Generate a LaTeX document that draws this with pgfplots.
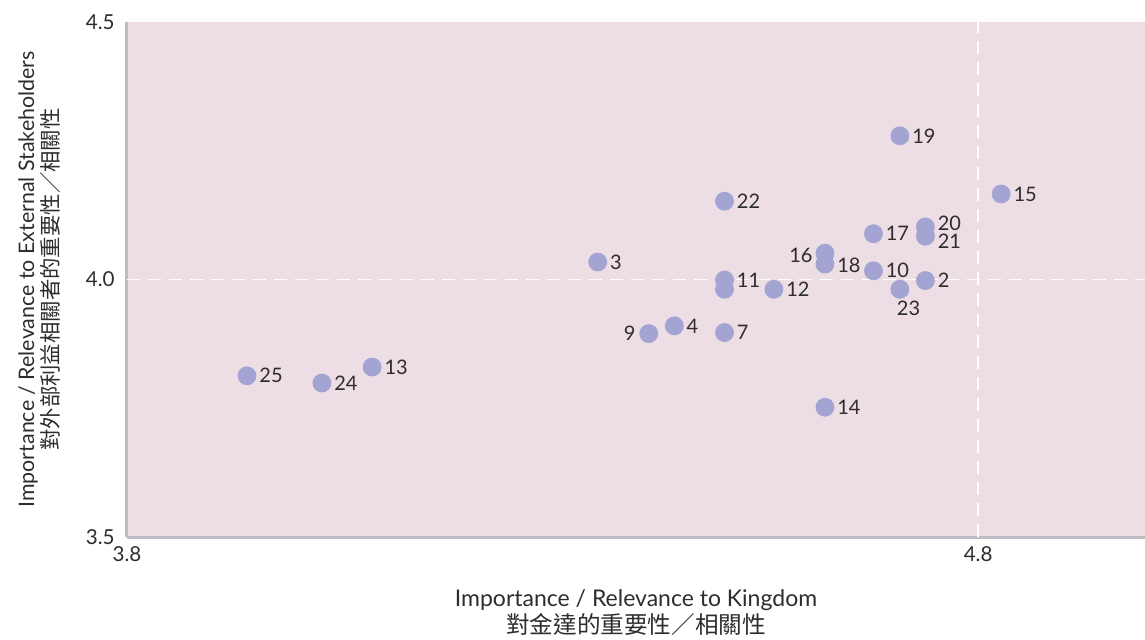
\documentclass[border=0pt]{standalone}
\usepackage{fontspec}
\setmainfont{Lato}
\newfontfamily\cjk{Noto Sans CJK TC}
\usepackage{pgfplots}
\usepackage{pgfplotstable}
\pgfplotsset{compat=1.18}

\definecolor{bgpink}{RGB}{237,221,228}
\definecolor{dot}{RGB}{163,164,210}
\definecolor{axisgrey}{RGB}{188,188,194}
\definecolor{txt}{RGB}{45,45,45}

% issue scores: x = Kingdom, y = external stakeholders
% anc = anchor angle of the number (180 west, 0 east, 135 north west), dx/dy in pt
\pgfplotstableread{
x     y     lab anc dx   dy
3.941 3.813 25  180 6    0
4.029 3.799 24  180 6    0
4.088 3.830 13  180 6    0
4.353 4.034 3   180 6    0
4.413 3.895 9   0   -6.5 0
4.443 3.910 4   180 6    0
4.502 3.897 7   180 6    0
4.502 3.999 11  180 6    0
4.502 4.152 22  180 6    0
4.560 3.981 12  180 6    0
4.620 4.051 16  0   -6   -1
4.620 4.030 18  180 6    -0.5
4.620 3.752 14  180 6    0
4.677 4.089 17  180 6    0
4.677 4.017 10  180 6    0
4.708 3.981 23  135 0.5  -5.5
4.738 3.998 2   180 6    0
4.738 4.102 20  180 6    2
4.738 4.084 21  180 6    -2.5
4.708 4.279 19  180 6    0
4.827 4.166 15  180 6    0
}\issues

\begin{document}
\begin{tikzpicture}
\useasboundingbox (-63.5pt,-51pt) rectangle (509pt,268.5pt);
\begin{axis}[
    scale only axis,
    width=509pt, height=257.5pt,
    xmin=3.8, xmax=4.996,
    ymin=3.5, ymax=4.5,
    xtick={3.8,4.8},
    ytick={3.5,4.0,4.5},
    axis x line*=bottom,
    axis y line*=left,
    axis line style={draw=axisgrey, line width=1.5pt, -},
    axis background/.style={fill=bgpink},
    xtick style={draw=none}, ytick style={draw=none},
    /pgf/number format/.cd, fixed, fixed zerofill, precision=1, assume math mode=true,
    /pgfplots/.cd,
    ticklabel style={font=\fontsize{10.3}{12}\selectfont, text=txt},
    yticklabel style={anchor=east, inner sep=0pt, xshift=-6pt},
    xticklabel style={anchor=north, inner sep=0pt, yshift=-4.5pt},
    xlabel={Importance / Relevance to Kingdom\\{\cjk\fontsize{11.8}{13.5}\selectfont 對金達的重要性／相關性}},
    ylabel={Importance / Relevance to External Stakeholders\\{\cjk 對外部利益相關者的重要性／相關性}},
    x label style={at={(axis description cs:0.5,-0.1476)}, anchor=center, align=center,
        font=\fontsize{11.5}{13.5}\selectfont, text=txt},
    y label style={at={(axis description cs:-0.0864,0.5)}, anchor=center, align=center,
        font=\fontsize{10.7}{12}\selectfont, text=txt},
]
% quadrant guides
\addplot[white, line width=0.8pt, dash pattern=on 6.5pt off 4pt] coordinates {(3.8,4.0) (4.996,4.0)};
\addplot[white, line width=0.8pt, dash pattern=on 6.5pt off 4pt] coordinates {(4.8,3.5) (4.8,4.5)};

% hidden-number dot under 11
\addplot[only marks, mark=*, mark size=4.5pt, color=dot] coordinates {(4.502,3.981)};

\addplot[only marks, mark=*, mark size=4.5pt, color=dot,
    point meta=explicit symbolic,
    visualization depends on={\thisrow{anc}\as\anc},
    visualization depends on={\thisrow{dx}\as\dx},
    visualization depends on={\thisrow{dy}\as\dy},
    nodes near coords,
    nodes near coords style={anchor=\anc, xshift=\dx pt, yshift=\dy pt, inner sep=0pt,
        text=txt, font=\fontsize{10}{12}\selectfont}]
    table[x=x, y=y, meta=lab] {\issues};
\end{axis}
\end{tikzpicture}
\end{document}
